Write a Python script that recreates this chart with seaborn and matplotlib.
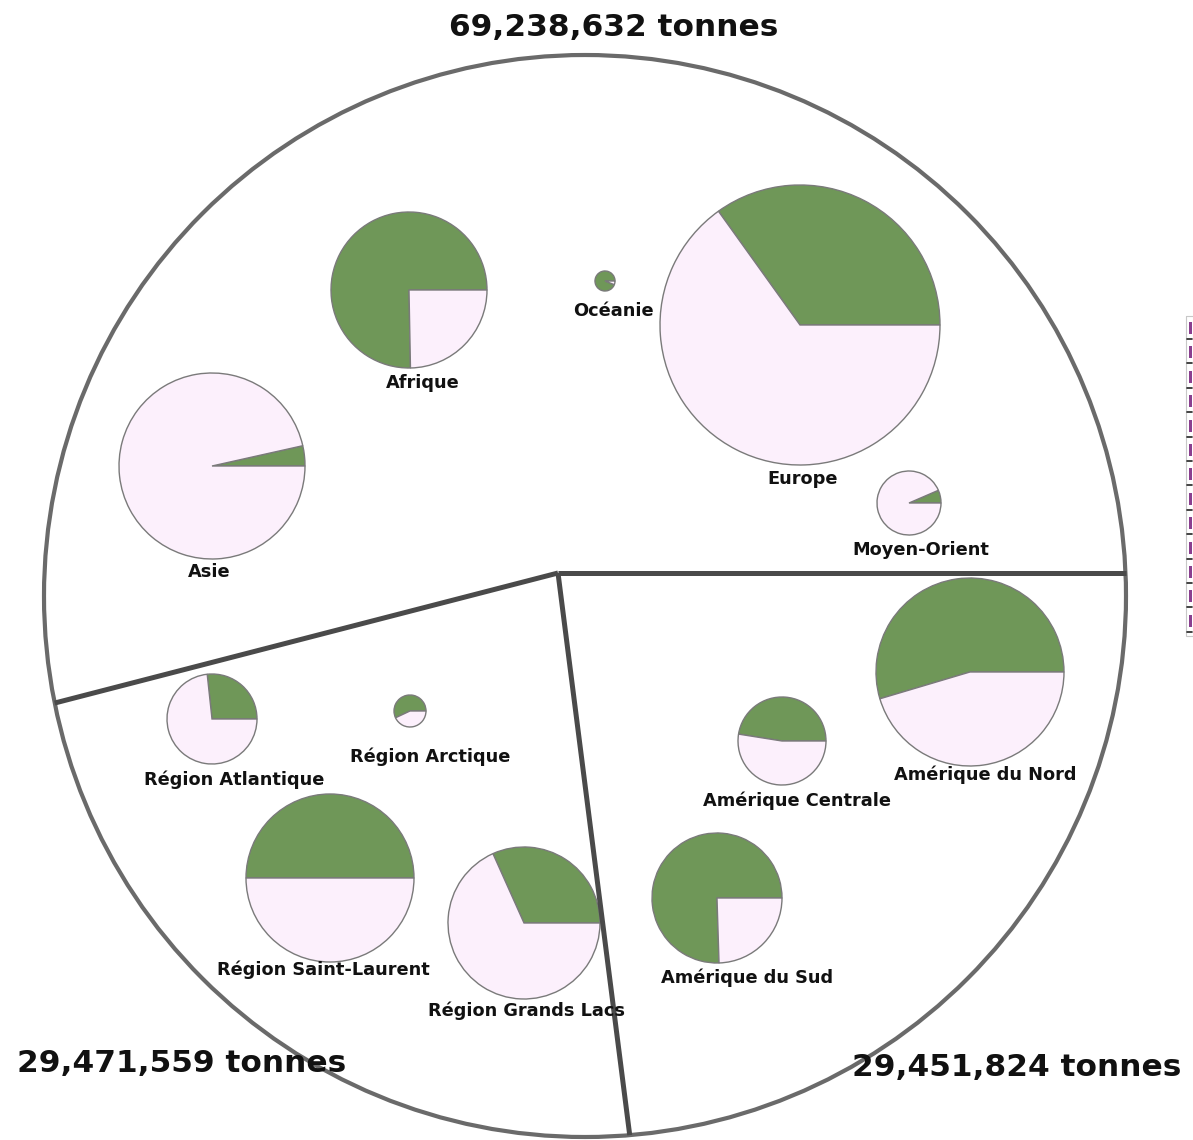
"""Camemberts proportionnels : tonnages par région"""

import numpy as np
from matplotlib import pyplot as plt
from matplotlib.patches import Circle, Rectangle
import seaborn as sns

# --- données ---
# trois grands secteurs (tonnes)
zones = ["Monde", "Canada", "Amériques"]
zone_tonnes = [69238632, 29471559, 29451824]
zone_labels = ["69,238,632 tonnes", "29,471,559 tonnes", "29,451,824 tonnes"]

# petits camemberts : nom, part verte (fraction), rayon (px)
regions = ["Asie", "Afrique", "Océanie", "Europe", "Moyen-Orient",
           "Région Atlantique", "Région Arctique", "Région Saint-Laurent",
           "Région Grands Lacs", "Amérique du Nord", "Amérique Centrale",
           "Amérique du Sud"]
part_verte = [0.035, 0.753, 0.94, 0.349, 0.065,
              0.267, 0.57, 0.50,
              0.317, 0.546, 0.475, 0.755]
rayons = [93, 78, 10, 140, 32,
          45, 16, 84,
          76, 94, 44, 65]

# --- mise en page (coordonnées pixel) ---
centres = [(212, 466), (409, 290), (605, 281), (800, 325), (909, 503),
           (212, 719), (410, 711), (330, 878),
           (524, 923), (970, 672), (782, 741), (717, 898)]
pos_labels = [(209, 572), (423, 383), (613, 311), (803, 479), (921, 550),
              (234, 780), (430, 757), (323, 970),
              (526, 1011), (985, 775), (797, 801), (747, 978)]
pos_zones = [(614, 27), (182, 1063), (1017, 1068)]

W, H = 1193, 1140
VERT = "#6f9758"
ROSE = "#fcf0fc"

sns.set_theme(style="white")
plt.rcParams['font.family'] = ['DejaVu Sans']

fig = plt.figure(figsize=(W / 100, H / 100), dpi=100)
ax = fig.add_axes([0, 0, 1, 1])

# grand cercle
grand_c = np.array([585.0, 596.0])
grand_r = 541
ax.add_patch(Circle(grand_c, grand_r, fill=False, edgecolor="#6a6a6a", lw=3.0, zorder=1))

# séparations des trois secteurs (angles proportionnels aux tonnages)
origine = np.array([558.0, 573.0])
fr = np.cumsum([0] + zone_tonnes[:-1]) / sum(zone_tonnes)
for f in fr:
    a = 2 * np.pi * f
    d = np.array([np.cos(a), -np.sin(a)])  # axe y vers le bas
    oc = origine - grand_c
    b = np.dot(oc, d)
    t = -b + np.sqrt(b * b - (np.dot(oc, oc) - grand_r ** 2))
    p = origine + t * d
    ax.plot([origine[0], p[0]], [origine[1], p[1]], color="#4a4a4a", lw=3.6,
            solid_capstyle="butt", zorder=2)

# petits camemberts (axe y inversé -> counterclock=False donne le sens trigo à l'écran)
for nom, v, r, c, lp in zip(regions, part_verte, rayons, centres, pos_labels):
    ax.pie([v, 1 - v], colors=[VERT, ROSE], center=c, radius=r,
           startangle=0, counterclock=False,
           wedgeprops=dict(edgecolor="#7a7a7a", linewidth=1.0))
    ax.text(lp[0], lp[1], nom, ha="center", va="center", fontsize=12.8,
            fontweight="bold", color="#111111")

for lab, p in zip(zone_labels, pos_zones):
    ax.text(p[0], p[1], lab, ha="center", va="center", fontsize=22.5,
            fontweight="bold", color="#111111")

# bout de légende coupé à droite
ax.add_patch(Rectangle((1186, 316), 12, 320, fill=False, edgecolor="#c8c8c8", lw=0.8))
for i in range(13):
    y = 322 + i * 24.4
    ax.add_patch(Rectangle((1188.5, y), 3, 12, color="#8a3f8f", lw=0))
    ax.plot([1187, 1192], [y + 17, y + 17], color="#222222", lw=1.2)

ax.set_xlim(0, W)
ax.set_ylim(H, 0)
ax.set_aspect("equal")
ax.axis("off")

plt.savefig("out.png", dpi=100)
